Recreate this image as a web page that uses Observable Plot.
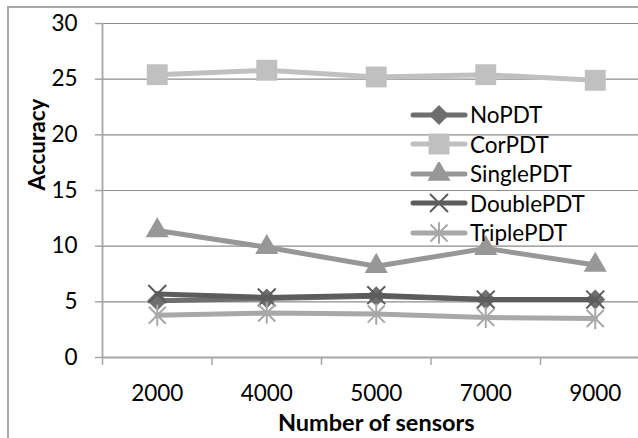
<!DOCTYPE html>
<html>
<head>
<meta charset="utf-8">
<script src="https://cdn.jsdelivr.net/npm/d3@7"></script>
<script src="https://cdn.jsdelivr.net/npm/@observablehq/plot@0.6"></script>
<style>
  html, body { margin: 0; padding: 0; background: #fff; overflow: hidden; }
  #wrap { position: relative; width: 638px; height: 438px; overflow: hidden; font-family: Lato, "Open Sans", sans-serif; }
  #border { position: absolute; left: 7px; top: 6px; width: 700px; height: 500px; border: 2px solid #a8a8a8; box-sizing: border-box; }
  #legend { position: absolute; left: 410px; top: 100px; }
  .item { display: flex; align-items: center; height: 29.5px; font-size: 22.5px; color: #000; }
  .item svg { margin-right: 2px; }
</style>
</head>
<body>
<div id="wrap"><div id="border"></div><div id="chart"></div><div id="legend"></div></div>
<script>
const categories = ["2000", "4000", "5000", "7000", "9000"];
const NoPDT     = [5.1, 5.3, 5.5, 5.2, 5.2];
const CorPDT    = [25.4, 25.8, 25.2, 25.4, 24.9];
const SinglePDT = [11.4, 9.9, 8.2, 9.8, 8.3];
const DoublePDT = [5.7, 5.4, 5.6, 5.2, 5.2];
const TriplePDT = [3.8, 4.0, 3.9, 3.6, 3.5];
const yTicks = [0, 5, 10, 15, 20, 25, 30];
const xTitle = "Number of sensors";
const yTitle = "Accuracy";

const excelAsterisk = {
  draw(ctx, size) {
    const r = Math.sqrt(size) * 0.6;
    ctx.moveTo(-r, -r); ctx.lineTo(r, r);
    ctx.moveTo(-r, r); ctx.lineTo(r, -r);
    ctx.moveTo(0, -r * 1.25); ctx.lineTo(0, r * 1.25);
  }
};

const series = [
  {name: "NoPDT", values: NoPDT, color: "#6e6e6e", symbol: "diamond2", r: 9, filled: true},
  {name: "CorPDT", values: CorPDT, color: "#c0c0c0", symbol: "square", r: 11.8, filled: true},
  {name: "SinglePDT", values: SinglePDT, color: "#979797", symbol: "triangle", r: 8.6, filled: true},
  {name: "DoublePDT", values: DoublePDT, color: "#5c5c5c", symbol: "times", r: 8.2, filled: false},
  {name: "TriplePDT", values: TriplePDT, color: "#a8a8a8", symbol: excelAsterisk, r: 8.0, filled: false}
];

const fs = 22.5;
const marks = [
  Plot.ruleY(yTicks.filter(d => d > 0), {stroke: "#8c8c8c", strokeWidth: 1.2}),
  Plot.axisY({ticks: yTicks, tickSize: 7, tickPadding: 18, fontSize: fs, label: null, stroke: "#a6a6a6", strokeWidth: 1.5, fill: "#000"}),
  Plot.axisX({ticks: d3.range(categories.length + 1), tickSize: 8, tickFormat: () => "", label: null, stroke: "#a6a6a6", strokeWidth: 1.5}),
  Plot.axisX({ticks: categories.map((_, i) => i + 0.5), tickSize: 0, tickPadding: 28, fontSize: fs, label: null, fill: "#000", tickFormat: d => categories[Math.floor(d)]}),
  Plot.ruleX([0], {stroke: "#a6a6a6", strokeWidth: 1.8}),
  Plot.ruleY([0], {stroke: "#a6a6a6", strokeWidth: 1.8}),
];

for (const s of series) {
  const rows = s.values.map((v, i) => ({x: i + 0.5, y: v}));
  marks.push(Plot.line(rows, {x: "x", y: "y", stroke: s.color, strokeWidth: 5, strokeLinejoin: "round"}));
  marks.push(Plot.dot(rows, {
    x: "x", y: "y", symbol: s.symbol, r: s.r,
    fill: s.filled ? s.color : "none",
    stroke: s.color, strokeWidth: s.filled ? 0 : 2
  }));
}

marks.push(Plot.text([xTitle], {frameAnchor: "bottom", dy: 66, fontWeight: "bold", fontSize: 23.5, fill: "#000", lineAnchor: "middle"}));
marks.push(Plot.text([yTitle], {frameAnchor: "left", dx: -65, rotate: -90, fontWeight: "bold", fontSize: 22.5, fill: "#000", lineAnchor: "middle"}));

const chart = Plot.plot({
  width: 638, height: 438,
  marginLeft: 102, marginTop: 23, marginBottom: 81, marginRight: -11.5,
  style: {fontFamily: "Lato, 'Open Sans', sans-serif", background: "transparent", overflow: "hidden"},
  x: {type: "linear", domain: [0, categories.length], axis: null},
  y: {domain: [0, 30], axis: null},
  marks
});
document.getElementById("chart").appendChild(chart);

// legend
const legend = d3.select("#legend");
for (const s of series) {
  const item = legend.append("div").attr("class", "item");
  const svg = item.append("svg").attr("width", 58).attr("height", 24);
  svg.append("line").attr("x1", 3).attr("x2", 55).attr("y1", 12).attr("y2", 12)
    .attr("stroke", s.color).attr("stroke-width", 5).attr("stroke-linecap", "round");
  const symType = typeof s.symbol === "string"
    ? {diamond2: d3.symbolDiamond2, square: d3.symbolSquare, triangle: d3.symbolTriangle, times: d3.symbolTimes}[s.symbol]
    : s.symbol;
  const size = Math.PI * s.r * s.r;
  svg.append("path").attr("transform", "translate(29,12)")
    .attr("d", d3.symbol(symType, size)())
    .attr("fill", s.filled ? s.color : "none")
    .attr("stroke", s.color).attr("stroke-width", s.filled ? 0 : 2);
  item.append("span").text(s.name);
}
</script>
</body>
</html>
